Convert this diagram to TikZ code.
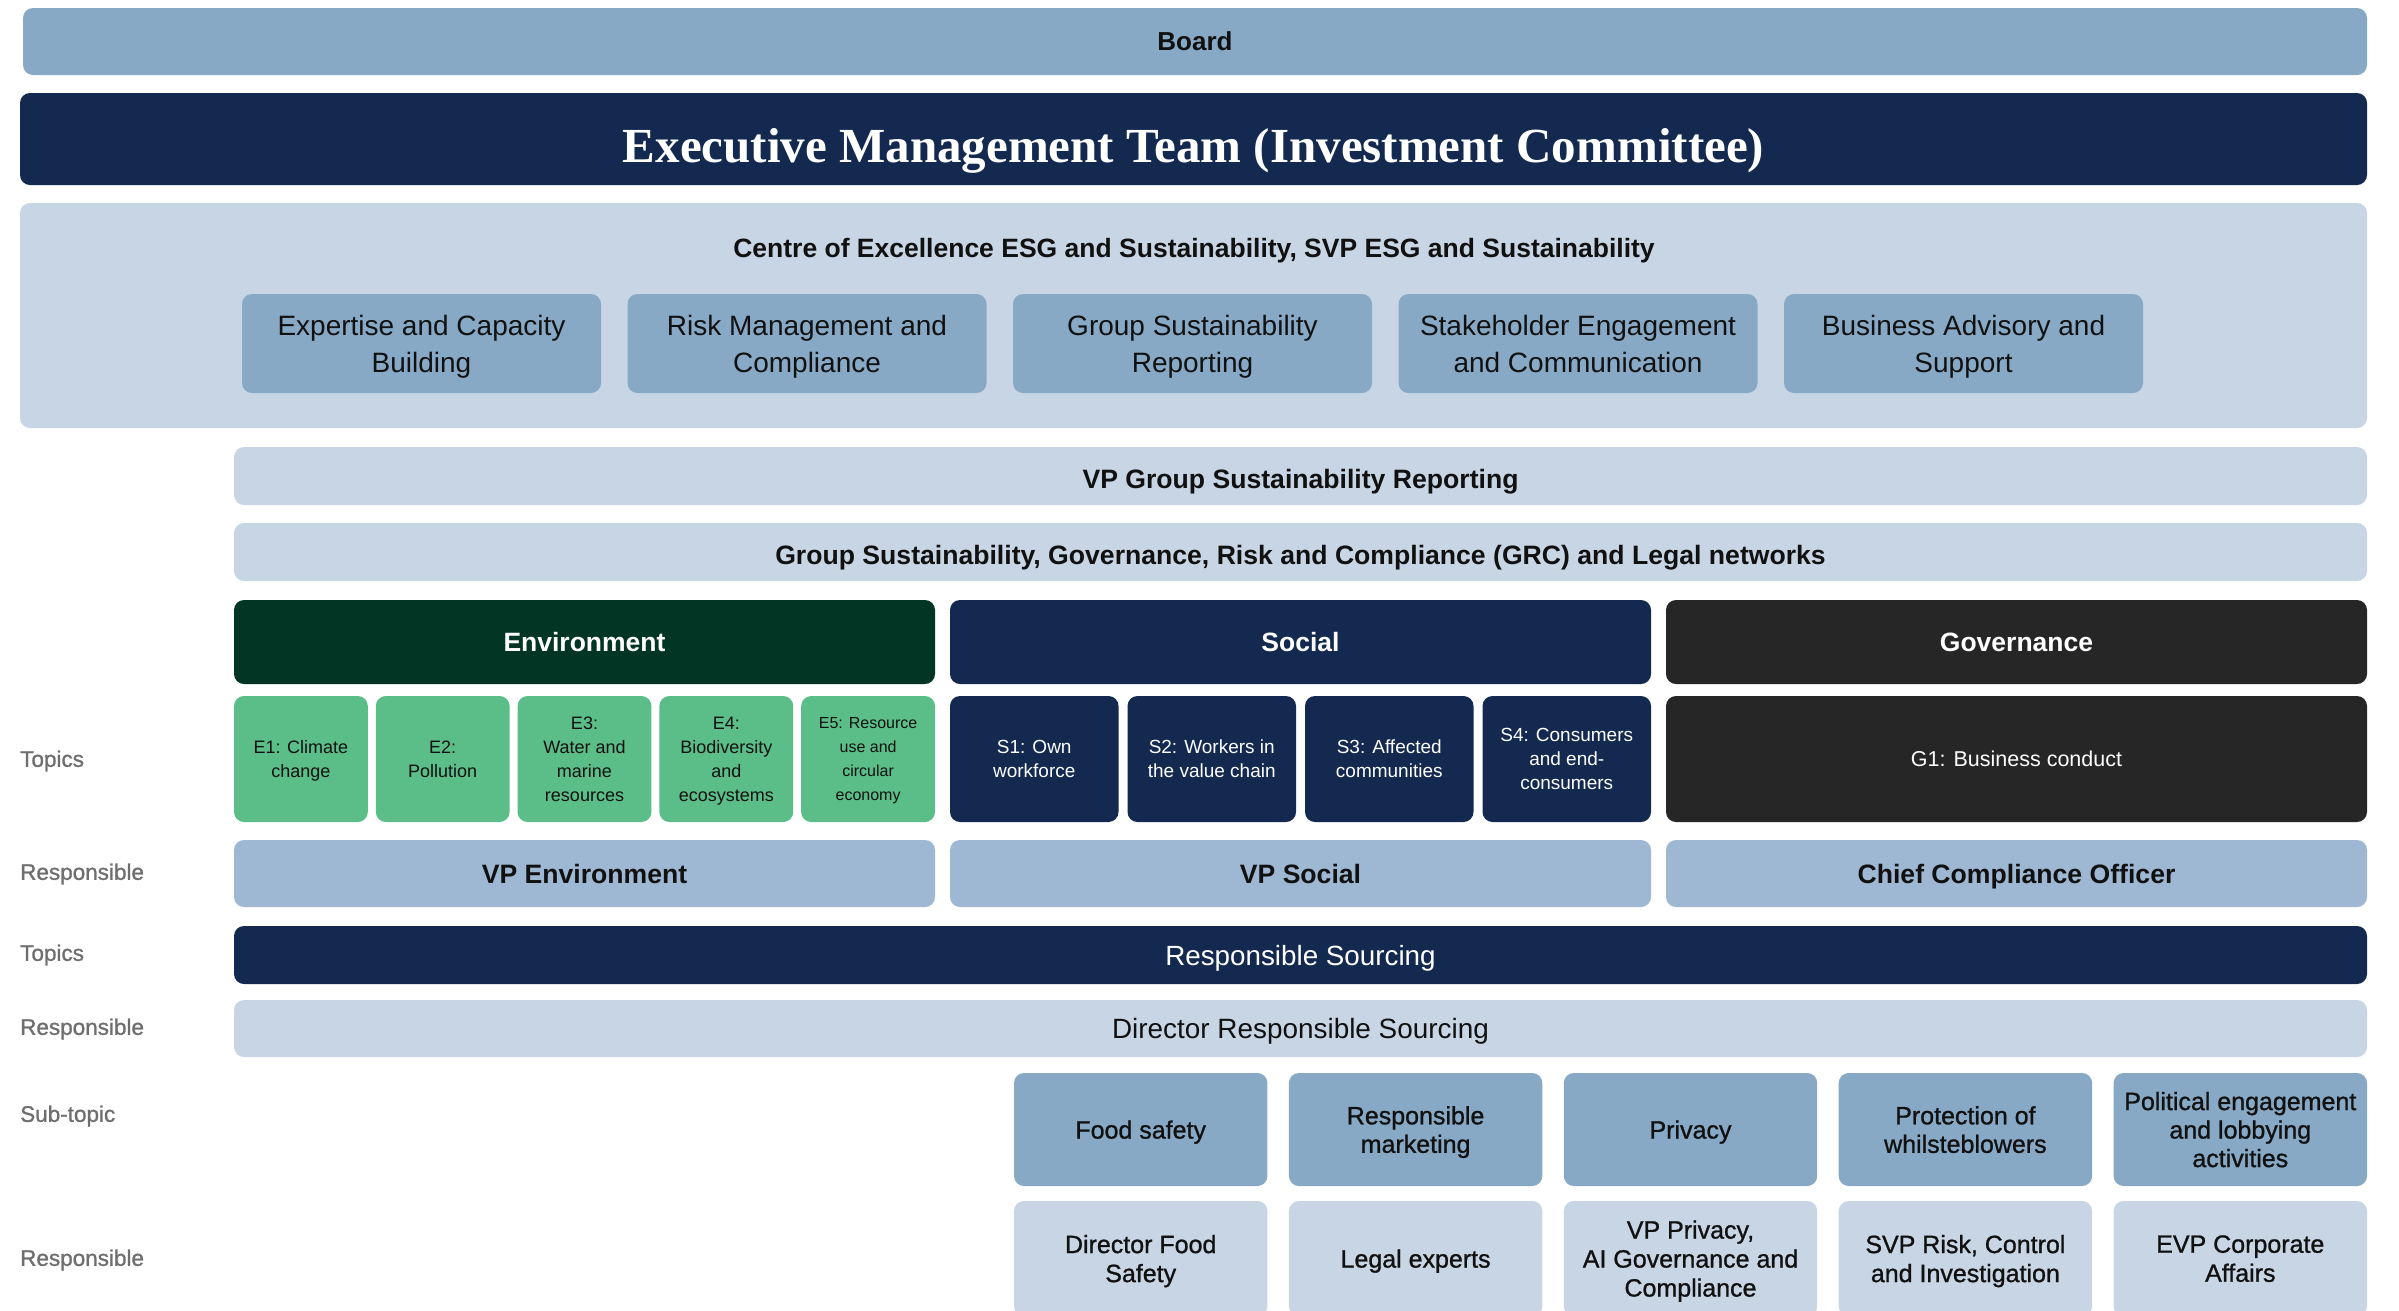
\documentclass[tikz,border=0pt]{standalone}
\usepackage{fontspec}
\setmainfont{Liberation Sans}
\newfontfamily\serifbold{Liberation Serif}
\newfontfamily\medfont{Liberation Sans}[FakeBold=1]
\definecolor{boardc}{HTML}{87A9C6}
\definecolor{navy}{HTML}{13294F}
\definecolor{lightc}{HTML}{C8D5E4}
\definecolor{envc}{HTML}{023523}
\definecolor{govc}{HTML}{262626}
\definecolor{greenc}{HTML}{5BBD88}
\definecolor{respc}{HTML}{9EB8D4}
\definecolor{labelc}{HTML}{6E6E6E}
\definecolor{txt}{HTML}{111111}
\newcommand\fs[2]{\fontsize{#1}{#2}\selectfont}
\newcommand\bx[7]{\node[box,#6,minimum width={(#4-#2)*1pt},minimum height={(#5-#3)*1pt}] (#1) at ({(#2+#4)/2},{(#3+#5)/2}) {#7};}
\tikzset{
  box/.style={rectangle, rounded corners=10pt, inner sep=0pt, outer sep=0pt, align=center, text=txt, text depth=0pt},
  midbox/.style={fill=boardc, font=\fs{28}{37}},
  hdr/.style={text=white, font=\bfseries\fs{26.5}{30}},
  etopic/.style={fill=greenc, text=txt, font=\fs{18}{24}},
  stopic/.style={fill=navy, text=white, font=\fs{19}{24}},
  resp/.style={fill=respc, font=\bfseries\fs{26.6}{30}},
  subt/.style={fill=boardc, font=\medfont\fs{25}{28.5}},
  subr/.style={fill=lightc, font=\medfont\fs{25}{29}},
  rowlabel/.style={anchor=west, inner sep=0pt, text=labelc, font=\medfont\fs{22.5}{26}}
}
\begin{document}
\begin{tikzpicture}[x=1pt,y=-1pt]
\useasboundingbox (0,0) rectangle (2399,1310);
\fill[white] (0,0) rectangle (2399,1310);
\clip (0,0) rectangle (2399,1310);
% top
\bx{board}{23}{8}{2367}{75}{fill=boardc, font=\bfseries\fs{26}{30}}{Board}
\bx{emt}{20}{93}{2367}{185}{fill=navy,text=white,text height=47pt,font=\serifbold\bfseries\fs{49}{56}}{Executive Management Team (Investment Committee)}
\bx{coe}{20}{203}{2367}{428}{fill=lightc}{}
\node[inner sep=0pt, text=txt, text depth=0pt, font=\bfseries\fs{26.5}{30}] (coetitle) at (1194,248) {Centre of Excellence ESG and Sustainability, SVP ESG and Sustainability};
\bx{c1}{242}{294}{601}{393}{midbox}{Expertise and Capacity\\Building}
\bx{c2}{627.5}{294}{986.5}{393}{midbox}{Risk Management and\\Compliance}
\bx{c3}{1013}{294}{1372}{393}{midbox}{Group Sustainability\\Reporting}
\bx{c4}{1398.5}{294}{1757.5}{393}{midbox}{Stakeholder Engagement\\and Communication}
\bx{c5}{1784}{294}{2143}{393}{midbox}{Business Advisory and\\Support}
\bx{vpg}{234}{447}{2367}{505}{fill=lightc, text height=25pt, font=\bfseries\fs{26.6}{30}}{VP Group Sustainability Reporting}
\bx{grc}{234}{523}{2367}{581}{fill=lightc, text height=25pt, font=\bfseries\fs{26.6}{30}}{Group Sustainability, Governance, Risk and Compliance (GRC) and Legal networks}
% headers
\bx{env}{234}{600}{935}{684}{fill=envc,hdr}{Environment}
\bx{soc}{950}{600}{1651}{684}{fill=navy,hdr}{Social}
\bx{gov}{1666}{600}{2367}{684}{fill=govc,hdr}{Governance}
% topics
\bx{e1}{234}{696}{367.8}{822}{etopic}{E1: Climate\\change}
\bx{e2}{375.8}{696}{509.6}{822}{etopic}{E2:\\Pollution}
\bx{e3}{517.6}{696}{651.4}{822}{etopic}{E3:\\Water and\\marine\\resources}
\bx{e4}{659.4}{696}{793.2}{822}{etopic}{E4:\\Biodiversity\\and\\ecosystems}
\bx{e5}{801.2}{696}{935}{822}{etopic, font=\fs{16}{24}}{E5: Resource\\use and\\circular\\economy}
\bx{s1}{950}{696}{1118.5}{822}{stopic}{S1: Own\\workforce}
\bx{s2}{1127.5}{696}{1296}{822}{stopic}{S2: Workers in\\the value chain}
\bx{s3}{1305}{696}{1473.5}{822}{stopic}{S3: Affected\\communities}
\bx{s4}{1482.5}{696}{1651}{822}{stopic}{S4: Consumers\\and end-\\consumers}
\bx{g1}{1666}{696}{2367}{822}{fill=govc,text=white,font=\fs{21.5}{24}}{G1: Business conduct}
% responsible
\bx{vpe}{234}{840}{935}{907}{resp}{VP Environment}
\bx{vps}{950}{840}{1651}{907}{resp}{VP Social}
\bx{cco}{1666}{840}{2367}{907}{resp}{Chief Compliance Officer}
\bx{rs}{234}{926}{2367}{984}{fill=navy,text=white,font=\fs{27.8}{30}}{Responsible Sourcing}
\bx{drs}{234}{1000}{2367}{1057}{fill=lightc,font=\fs{27.9}{30}}{Director Responsible Sourcing}
% sub-topics
\bx{t1}{1014}{1073}{1267.4}{1186}{subt}{Food safety}
\bx{t2}{1288.9}{1073}{1542.3}{1186}{subt}{Responsible\\marketing}
\bx{t3}{1563.8}{1073}{1817.2}{1186}{subt}{Privacy}
\bx{t4}{1838.7}{1073}{2092.1}{1186}{subt}{Protection of\\whilsteblowers}
\bx{t5}{2113.6}{1073}{2367}{1186}{subt}{Political engagement\\and lobbying\\activities}
\bx{r1}{1014}{1201}{1267.4}{1316}{subr}{Director Food\\Safety}
\bx{r2}{1288.9}{1201}{1542.3}{1316}{subr}{Legal experts}
\bx{r3}{1563.8}{1201}{1817.2}{1316}{subr}{VP Privacy,\\AI Governance and\\Compliance}
\bx{r4}{1838.7}{1201}{2092.1}{1316}{subr}{SVP Risk, Control\\and Investigation}
\bx{r5}{2113.6}{1201}{2367}{1316}{subr}{EVP Corporate\\Affairs}
% row labels
\node[rowlabel] (l1) at (20,761) {Topics};
\node[rowlabel] (l2) at (20,874) {Responsible};
\node[rowlabel] (l3) at (20,955) {Topics};
\node[rowlabel] (l4) at (20,1029) {Responsible};
\node[rowlabel] (l5) at (20,1116) {Sub-topic};
\node[rowlabel] (l6) at (20,1260) {Responsible};
\end{tikzpicture}
\end{document}
